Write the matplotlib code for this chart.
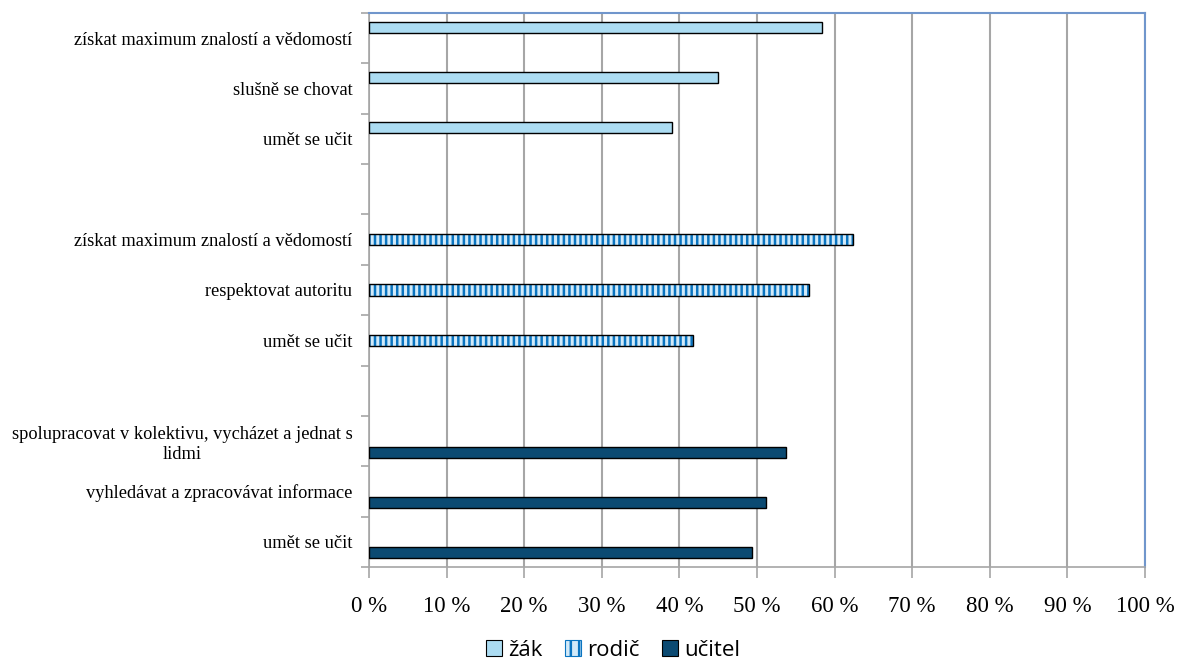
import matplotlib
matplotlib.use("Agg")
import matplotlib.pyplot as plt
from matplotlib.patches import Patch

# data (percent)
zak_labels = ["získat maximum znalostí a vědomostí", "slušně se chovat", "umět se učit"]
zak_values = [58.4, 45.0, 39.1]
rodic_labels = ["získat maximum znalostí a vědomostí", "respektovat autoritu", "umět se učit"]
rodic_values = [62.4, 56.7, 41.7]
ucitel_labels = ["spolupracovat v kolektivu, vycházet a jednat s\nlidmi",
                 "vyhledávat a zpracovávat informace", "umět se učit"]
ucitel_values = [53.7, 51.1, 49.3]
series_names = ["žák", "rodič", "učitel"]
x_ticks = [0, 10, 20, 30, 40, 50, 60, 70, 80, 90, 100]

zak_color = "#ACDCF2"
rodic_face = "#D2EAF9"
rodic_hatch = "#0A74C0"
ucitel_color = "#0B4A72"
grid_color = "#A6A6A6"
frame_color = "#7096CC"

plt.rcParams["hatch.linewidth"] = 1.8

fig = plt.figure(figsize=(11.84, 6.66), dpi=100)
ax = fig.add_axes([369 / 1184, 1 - 567 / 666, (1145 - 369) / 1184, (567 - 13) / 666])

bar_h = 0.22
offsets = [-0.22, 0.0, 0.22]   # each series sits in its own sub-slot of the category

# group 0 = žák (slots 0-2), blank slot 3, group 1 = rodič (4-6), blank 7, group 2 = učitel (8-10)
groups = [(zak_labels, zak_values), (rodic_labels, rodic_values), (ucitel_labels, ucitel_values)]
label_pos, label_txt = [], []
for g, (labels, values) in enumerate(groups):
    centers = [g * 4 + i + 0.5 for i in range(len(values))]
    ys = [c + offsets[g] for c in centers]
    if g == 0:
        ax.barh(ys, values, height=bar_h, color=zak_color, edgecolor="black", linewidth=1, zorder=3)
    elif g == 1:
        ax.barh(ys, values, height=bar_h, color=rodic_face, edgecolor=rodic_hatch,
                hatch="|||", linewidth=0, zorder=3)
        ax.barh(ys, values, height=bar_h, fill=False, edgecolor="black", linewidth=1, zorder=4)
    else:
        ax.barh(ys, values, height=bar_h, color=ucitel_color, edgecolor="black", linewidth=1, zorder=3)
    label_pos += centers
    label_txt += labels

ax.set_ylim(11, 0)
ax.set_xlim(0, 100)

ax.set_yticks(label_pos)
ax.set_yticklabels(label_txt, fontsize=13.2, family="Liberation Serif", ha="right",
                   multialignment="center")
ax.tick_params(axis="y", which="major", length=0, pad=12)
ax.set_yticks(range(0, 12), minor=True)
ax.tick_params(axis="y", which="minor", length=6, color=grid_color, width=1.2)

ax.set_xticks(x_ticks)
ax.set_xticklabels([f"{t} %" for t in x_ticks], fontsize=16.5, family="Liberation Serif")
ax.tick_params(axis="x", length=8, color=grid_color, width=1.2, pad=13)

ax.grid(axis="x", color=grid_color, linewidth=1.5, zorder=0)
ax.set_axisbelow(True)

ax.spines["left"].set_color(grid_color)
ax.spines["left"].set_linewidth(1.2)
ax.spines["bottom"].set_color(grid_color)
ax.spines["bottom"].set_linewidth(1.2)
ax.spines["top"].set_color(frame_color)
ax.spines["top"].set_linewidth(1.5)
ax.spines["right"].set_color(frame_color)
ax.spines["right"].set_linewidth(1.5)

handles = [
    Patch(facecolor=zak_color, edgecolor="black", linewidth=0.8),
    Patch(facecolor=rodic_face, edgecolor=rodic_hatch, hatch="||", linewidth=0.8),
    Patch(facecolor=ucitel_color, edgecolor="black", linewidth=0.8),
]
fig.legend(handles, series_names, loc="lower center", bbox_to_anchor=(0.518, -0.022), ncol=3,
           frameon=False, prop={"family": "Open Sans", "size": 16},
           handlelength=0.7, handleheight=0.7, handletextpad=0.3, columnspacing=1.0)

fig.savefig("out.png", dpi=100)
